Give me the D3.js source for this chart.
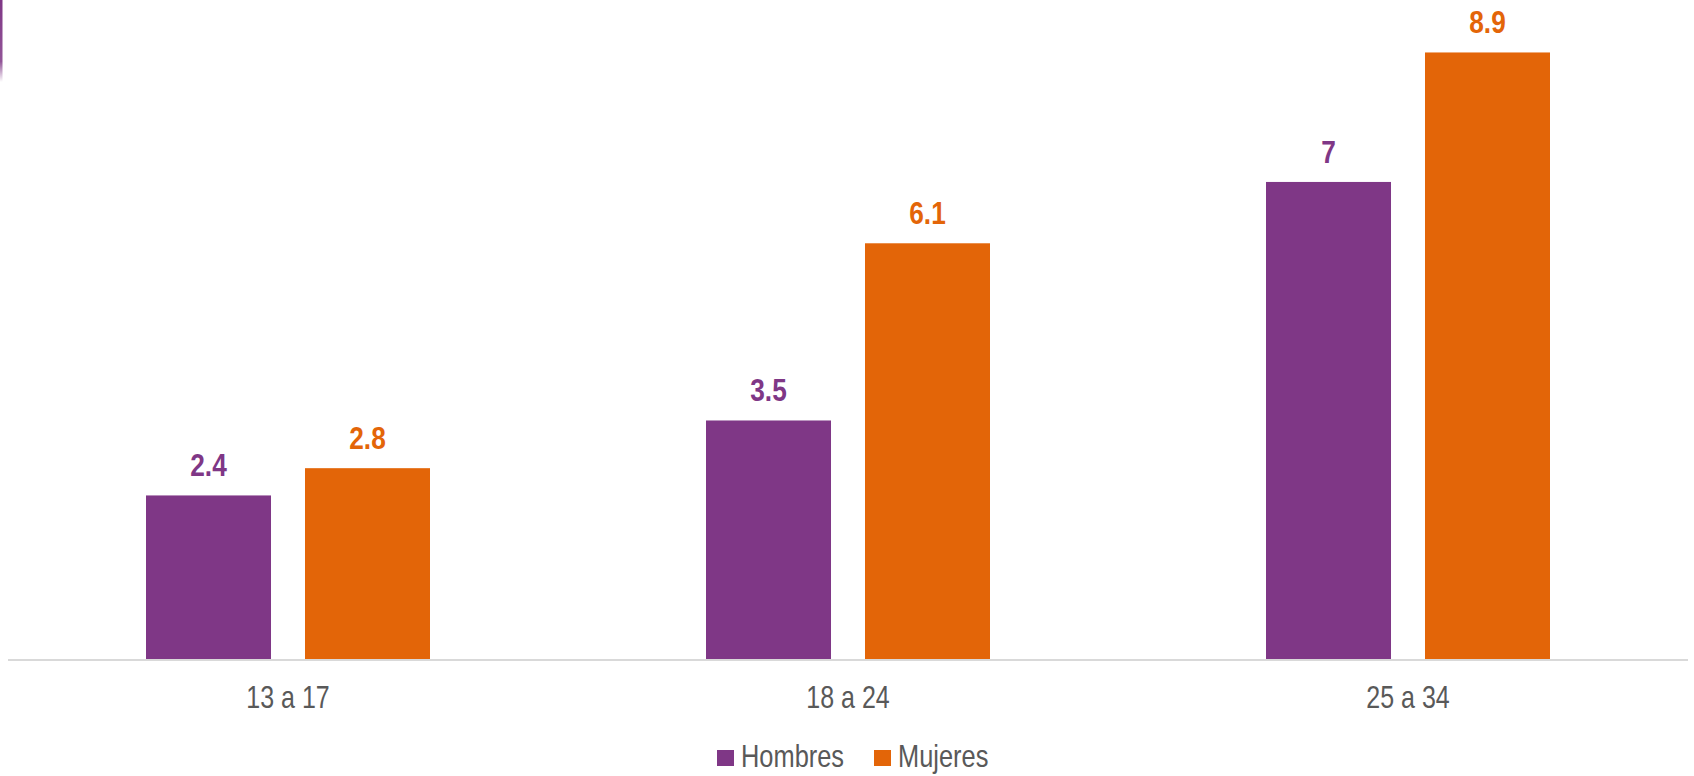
<!DOCTYPE html>
<html>
<head>
<meta charset="utf-8">
<script src="https://cdn.jsdelivr.net/npm/d3@7"></script>
<style>
  html, body { margin: 0; padding: 0; background: #fff; }
  svg { display: block; }
</style>
</head>
<body>
<svg id="chart" width="1694" height="776"></svg>
<script>
// Age groups and series
const categories = ["13 a 17", "18 a 24", "25 a 34"];
const seriesNames = ["Hombres", "Mujeres"];
const hombres = [2.4, 3.5, 7];
const mujeres = [2.8, 6.1, 8.9];
const colors = ["#7F3786", "#E36508"];

const values = [hombres, mujeres];
const rows = categories.map((c, i) => ({
  category: c,
  items: seriesNames.map((s, j) => ({ series: s, value: values[j][i], color: colors[j] }))
}));

const svg = d3.select("#chart");
const baseY = 659;

// Use a narrow face when installed; otherwise compress the regular face
const ctx = document.createElement("canvas").getContext("2d");
ctx.font = "30px 'Liberation Sans Narrow', monospace";
const wNarrow = ctx.measureText("Hombres 13 a 17").width;
ctx.font = "30px monospace";
const wMono = ctx.measureText("Hombres 13 a 17").width;
const hasNarrow = Math.abs(wNarrow - wMono) > 1;
const family = hasNarrow ? "'Liberation Sans Narrow'" : "'Liberation Sans', Arial, sans-serif";
const squeeze = hasNarrow ? 1 : 0.82;

function narrowText(sel, x, y) {
  sel.attr("transform", `translate(${x},${y}) scale(${squeeze},1)`)
     .attr("font-family", family);
  return sel;
}

const x0 = d3.scaleBand().domain(categories).range([8, 1688]).padding(0);
const x1 = d3.scaleBand().domain(seriesNames).range([0, x0.bandwidth()])
  .paddingInner(0.2138).paddingOuter(0.868);
const y = d3.scaleLinear().domain([0, 9]).range([baseY, baseY - 9 * 68.15]);

// Decorative accent at the left edge
const defs = svg.append("defs");
const grad = defs.append("linearGradient").attr("id", "accent")
  .attr("x1", 0).attr("y1", 0).attr("x2", 0).attr("y2", 1);
grad.append("stop").attr("offset", "0%").attr("stop-color", "#7F3786").attr("stop-opacity", 1);
grad.append("stop").attr("offset", "75%").attr("stop-color", "#7F3786").attr("stop-opacity", 0.85);
grad.append("stop").attr("offset", "100%").attr("stop-color", "#7F3786").attr("stop-opacity", 0);
svg.append("rect").attr("x", 0).attr("y", 0).attr("width", 2.5).attr("height", 82)
  .attr("fill", "url(#accent)");

// Bars
const groups = svg.append("g").selectAll("g").data(rows).join("g")
  .attr("transform", d => `translate(${x0(d.category)},0)`);

groups.selectAll("rect").data(d => d.items).join("rect")
  .attr("x", d => x1(d.series))
  .attr("y", d => y(d.value))
  .attr("width", x1.bandwidth())
  .attr("height", d => y(0) - y(d.value))
  .attr("fill", d => d.color);

// Value labels
groups.selectAll("text.val").data(d => d.items).join("text")
  .attr("class", "val")
  .attr("text-anchor", "middle")
  .attr("font-size", 32)
  .attr("font-weight", "bold")
  .attr("fill", d => d.color)
  .text(d => d.value)
  .each(function (d) {
    narrowText(d3.select(this), x1(d.series) + x1.bandwidth() / 2, y(d.value) - 19);
  });

// Category axis
const axis = svg.append("g").attr("transform", `translate(0,${baseY})`)
  .call(d3.axisBottom(x0).tickSize(0).tickPadding(0));
axis.select(".domain").attr("stroke", "#D9D9D9").attr("stroke-width", 2)
  .attr("d", `M8,1H1688`);
axis.selectAll(".tick text")
  .attr("dy", null)
  .attr("y", null)
  .attr("font-size", 30.5)
  .attr("fill", "#595959")
  .each(function () { narrowText(d3.select(this), 0, 49); });

// Legend
const legendItems = [
  { name: seriesNames[0], color: colors[0], x: 717 },
  { name: seriesNames[1], color: colors[1], x: 874 }
];
const legend = svg.append("g");
legend.selectAll("rect").data(legendItems).join("rect")
  .attr("x", d => d.x).attr("y", 750).attr("width", 17).attr("height", 16)
  .attr("fill", d => d.color);
legend.selectAll("text").data(legendItems).join("text")
  .attr("font-size", 31)
  .attr("fill", "#595959")
  .text(d => d.name)
  .each(function (d) { narrowText(d3.select(this), d.x + 24, 767); });
</script>
</body>
</html>
